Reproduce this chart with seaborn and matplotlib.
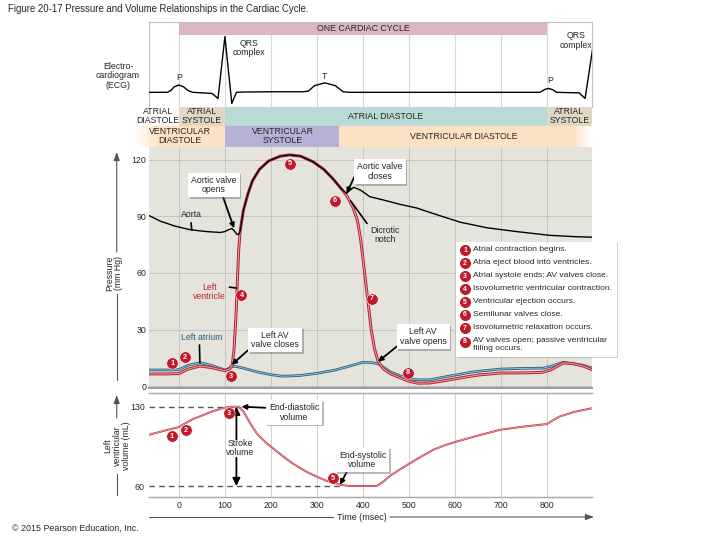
import numpy as np
import matplotlib
matplotlib.use("Agg")
import matplotlib.pyplot as plt
import matplotlib.patheffects as pe
from matplotlib.patches import Rectangle
import seaborn as sns

# ---------------- data ----------------
lv_t = [-65, -30, 0, 20, 46, 70, 100, 110, 116, 120, 124, 127, 130, 133, 140, 150, 160, 175,
        195, 220, 241, 265, 292, 315, 335, 352, 365, 378, 388, 395, 400, 406, 411, 418, 425,
        433, 445, 460, 480, 500, 520, 545, 570, 600, 650, 700, 760, 790, 808, 835, 855, 879, 900]
lv_p = [6.4, 6.4, 6.6, 9.0, 10.6, 9.8, 8.1, 9.0, 11, 20, 37, 55, 72, 82, 93, 102, 109, 115,
        119.5, 122, 122.7, 122, 119, 115, 110, 105, 101, 95, 88, 78, 68, 55, 45, 30, 20,
        13, 9, 6.5, 4.5, 2.5, 1.5, 1.6, 2.5, 3.8, 5.8, 6.9, 7.0, 7.3, 8.5, 12.2, 12.0, 10.6, 8.5]

aorta_t = [-65, -40, -10, 24, 60, 90, 100, 108, 115, 120, 126, 130, 133, 140, 150, 160, 175,
           195, 220, 241, 265, 292, 315, 335, 352, 364, 372, 380, 395, 415, 444, 480, 517,
           560, 611, 670, 734, 806, 860, 900]
aorta_p = [90.5, 87.5, 85, 83, 82, 81.5, 82, 83, 83.6, 82.5, 80.5, 80.5, 82, 93, 102, 109, 115,
           119.5, 122, 122.7, 122, 119, 115, 110, 105, 102.3, 104, 105.5, 104, 100.5, 98.8, 96.5, 94.5,
           91, 87, 84, 82, 80, 79.3, 79]

atrium_t = [-65, -20, 0, 20, 46, 70, 100, 110, 116, 125, 140, 170, 200, 226, 260, 300, 340,
            370, 400, 420, 433, 444, 460, 480, 500, 517, 545, 589, 640, 698, 760, 792, 810,
            835, 879, 900]
atrium_p = [8.5, 8.5, 8.7, 11, 12.4, 11, 8.5, 9.5, 10.5, 10.3, 9.5, 7.5, 6.0, 5.2, 5.5, 6.7, 8.5,
            10.5, 12.6, 12.4, 11.8, 10, 7.5, 5.5, 3.8, 3.3, 3.3, 5.3, 7.5, 9.0, 9.4, 9.5, 10.5,
            12.6, 11, 9.4]

vol_t = [-67, -30, 0, 10, 30, 46, 70, 97, 115, 130, 140, 154, 170, 190, 210, 227, 245, 263,
         280, 300, 318, 336, 355, 372, 430, 445, 459, 480, 502, 527, 553, 578, 604, 650, 698,
         750, 800, 815, 828, 860, 900]
vol_v = [105, 109, 112, 114.5, 119, 121.5, 125.5, 129, 130, 130, 126, 116, 106, 98, 91.5, 86,
         80.5, 76, 72, 68.2, 65, 62.7, 60.8, 60, 60, 64, 69, 74.5, 80, 86, 92, 96, 99.3, 104.5,
         109.6, 112.5, 114.7, 118.5, 121.4, 125.5, 128.8]

ecg_t = [-65, -25, -18, -10, 0, 10, 20, 30, 50, 72, 85, 100, 115, 125, 140, 200, 270, 281,
         295, 317, 340, 357, 370, 500, 785, 795, 803, 812, 821, 870, 883, 900, 910]
ecg_v = [0, 0, 0.03, 0.1, 0.13, 0.1, 0.03, 0, -0.01, -0.02, -0.11, 1.0, -0.2, 0, 0.005, 0.01,
         0.01, 0.02, 0.12, 0.17, 0.12, 0.01, 0, 0, 0, 0.05, 0.07, 0.05, 0, -0.01, -0.11, 0.82, 1.3]

time_ticks = [0, 100, 200, 300, 400, 500, 600, 700, 800]
pressure_ticks = [0, 30, 60, 90, 120]
edv, esv = 130, 60
volume_ticks = [esv, edv]

p_marker_num = [1, 2, 3, 4, 5, 6, 7, 8]
p_marker_t = [-14, 13, 114, 136, 241, 339, 419, 498]
p_marker_p = [12, 15.2, 5.3, 48.3, 117.9, 98.4, 46.2, 7.1]
v_marker_num = [1, 2, 3, 5]
v_marker_t = [-16, 15, 109, 335]
v_marker_v = [103.8, 109, 124.1, 66.8]

cycle_start, cycle_end = 0, 800
atrial_phases = [("ATRIAL\nDIASTOLE", -65, 0, "white", -46),
                 ("ATRIAL\nSYSTOLE", 0, 100, "#e2d6c5", 50),
                 ("ATRIAL DIASTOLE", 100, 800, "#b9dbd8", 450),
                 ("ATRIAL\nSYSTOLE", 800, 898, "#e2d6c5", 849)]
vent_phases = [("VENTRICULAR\nDIASTOLE", 2),
               ("VENTRICULAR\nSYSTOLE", 226),
               ("VENTRICULAR DIASTOLE", 620)]
vsys_start, vsys_end = 100, 349

legend_items = ["Atrial contraction begins.",
                "Atria eject blood into ventricles.",
                "Atrial systole ends; AV valves close.",
                "Isovolumetric ventricular contraction.",
                "Ventricular ejection occurs.",
                "Semilunar valves close.",
                "Isovolumetric relaxation occurs.",
                "AV valves open; passive ventricular\nfilling occurs."]

# ---------------- style ----------------
sns.set_style("white")
plt.rcParams["font.family"] = ["Liberation Sans", "DejaVu Sans"]
FS = 6.3
RED_D, RED_L = "#b01f2d", "#f3a3a8"
BLUE_D, BLUE_L = "#2e5d7c", "#9ad2e4"
MARK = "#c01a2a"

W, H = 720, 540
fig = plt.figure(figsize=(7.2, 5.4), dpi=100)


def px_axes(x0, y0, x1, y1):
    return fig.add_axes([x0 / W, 1 - y1 / H, (x1 - x0) / W, (y1 - y0) / H])


XL = (-65, 898)
ax_ecg = px_axes(149, 21.7, 592, 107)
ax_band = px_axes(149, 107, 592, 147)
ax_p = px_axes(149, 147, 592, 388)
ax_v = px_axes(149, 393, 592, 497)

# ---------------- ECG ----------------
for t in time_ticks:
    ax_ecg.axvline(t, color="#d8d8d8", lw=0.8, zorder=0)
ax_ecg.add_patch(Rectangle((cycle_start, 1.03), cycle_end - cycle_start, 0.3,
                           color="#dbb5c4", lw=0, zorder=1))
ax_ecg.text((cycle_start + cycle_end) / 2, 1.15, "ONE CARDIAC CYCLE", ha="center", va="center",
            fontsize=FS, zorder=2)
sns.lineplot(x=ecg_t, y=ecg_v, ax=ax_ecg, color="black", lw=1.0, legend=False, zorder=3)
ax_ecg.set_xlim(*XL)
ax_ecg.set_ylim(-0.264, 1.27)
ax_ecg.set_xticks([]); ax_ecg.set_yticks([])
ax_ecg.set_xlabel(""); ax_ecg.set_ylabel("")
for s in ["top", "left", "right"]:
    ax_ecg.spines[s].set_color("#bdbdbd"); ax_ecg.spines[s].set_linewidth(0.8)
ax_ecg.spines["bottom"].set_visible(False)
ax_ecg.text(0, 0.27, "P", ha="center", va="center", fontsize=FS)
ax_ecg.text(152, 0.8, "QRS\ncomplex", ha="center", va="center", fontsize=FS, linespacing=1.05)
ax_ecg.text(317, 0.28, "T", ha="center", va="center", fontsize=FS)
ax_ecg.text(807, 0.22, "P", ha="center", va="center", fontsize=FS)
ax_ecg.text(864, 0.93, "QRS\ncomplex", ha="center", va="center", fontsize=FS, linespacing=1.05)

# ---------------- phase bands ----------------
tt = np.linspace(-95, 898, 500)
alpha = np.clip((tt + 95) / 55, 0, 1) * np.clip((898 - tt) / 40, 0, 1)
peach = np.zeros((1, len(tt), 4))
peach[..., 0], peach[..., 1], peach[..., 2] = 253 / 255, 225 / 255, 196 / 255
peach[..., 3] = alpha
ax_band.imshow(peach, extent=(-95, 898, 0, 21), aspect="auto", clip_on=False, zorder=0)
ax_band.add_patch(Rectangle((vsys_start, 0), vsys_end - vsys_start, 21, color="#b7b1d8", lw=0, zorder=1))
for label, a, b, col, tc in atrial_phases:
    ax_band.add_patch(Rectangle((a, 21), b - a, 19, color=col, lw=0, zorder=1))
    ax_band.text(tc, 30.5, label, ha="center", va="center", fontsize=FS, linespacing=1.0,
                 clip_on=False, zorder=3)
for label, tc in vent_phases:
    ax_band.text(tc, 10.5, label, ha="center", va="center", fontsize=FS, linespacing=1.0,
                 clip_on=False, zorder=3)
ax_band.set_xlim(*XL)
ax_band.set_ylim(0, 40)
ax_band.axis("off")

# ---------------- pressure ----------------
ax_p.set_facecolor("#e4e4dd")
sns.lineplot(x=atrium_t, y=atrium_p, ax=ax_p, color=BLUE_D, lw=1.9, legend=False)
sns.lineplot(x=atrium_t, y=atrium_p, ax=ax_p, color=BLUE_L, lw=0.6, legend=False)
sns.lineplot(x=lv_t, y=lv_p, ax=ax_p, color=RED_D, lw=2.1, legend=False)
sns.lineplot(x=lv_t, y=lv_p, ax=ax_p, color=RED_L, lw=0.7, legend=False)
sns.lineplot(x=aorta_t, y=aorta_p, ax=ax_p, color="black", lw=1.0, legend=False)
ax_p.set_xlim(*XL)
ax_p.set_ylim(-1.06, 126.9)
ax_p.set_xticks(time_ticks)
ax_p.set_yticks(pressure_ticks)
ax_p.grid(True, color="#c6c6be", lw=0.7)
ax_p.set_axisbelow(True)
ax_p.tick_params(labelbottom=False, length=0, labelsize=6.3, pad=2)
ax_p.set_xlabel(""); ax_p.set_ylabel("")
for s in ["top", "left", "right"]:
    ax_p.spines[s].set_visible(False)
ax_p.spines["bottom"].set_color("#9c9c9c"); ax_p.spines["bottom"].set_linewidth(1.5)

sns.scatterplot(x=p_marker_t, y=p_marker_p, ax=ax_p, s=68, color=MARK, edgecolor="white",
                linewidth=0.4, legend=False, zorder=5)
for n, t, p in zip(p_marker_num, p_marker_t, p_marker_p):
    ax_p.text(t, p, str(n), color="white", fontsize=5.2, weight="bold", ha="center",
              va="center", zorder=6)

box = dict(boxstyle="square,pad=0.35", fc="white", ec="none")
arrow_kw = dict(arrowstyle="-|>,head_length=0.45,head_width=0.22", color="black", lw=1.3,
                shrinkA=0, shrinkB=0)
shadow = [pe.SimplePatchShadow(offset=(1.2, -1.2), shadow_rgbFace="#777777", alpha=0.5), pe.Normal()]


def boxed(ax, text, xy, xytext, relpos):
    a = ax.annotate(text, xy=xy, xytext=xytext, ha="center", va="center", fontsize=FS,
                    linespacing=1.05, bbox=box, zorder=7,
                    arrowprops=dict(relpos=relpos, **arrow_kw))
    a.get_bbox_patch().set_path_effects(shadow)
    return a


boxed(ax_p, "Aortic valve\nopens", (120, 83.7), (76, 106.7), (0.68, 0.0))
boxed(ax_p, "Aortic valve\ncloses", (364.5, 102.3), (437, 113.8), (0.0, 0.55))
boxed(ax_p, "Left AV\nvalve closes", (114.5, 11.2), (209, 24.4), (0.0, 0.1))
boxed(ax_p, "Left AV\nvalve opens", (433, 12.9), (531, 26.2), (0.0, 0.1))

line_kw = dict(arrowstyle="-", color="black", lw=1.2, shrinkA=0, shrinkB=0)
ax_p.annotate("Aorta", xy=(28, 82.8), xytext=(28, 90.8), ha="center", va="center", fontsize=FS,
              zorder=7, arrowprops=dict(relpos=(0.45, 0.0), **line_kw))
ax_p.annotate("Left\nventricle", xy=(125, 52), xytext=(67, 50), ha="center", va="center",
              fontsize=FS, color="#c0202a", zorder=7, linespacing=1.05,
              arrowprops=dict(relpos=(1.0, 0.78), **line_kw))
ax_p.annotate("Left atrium", xy=(45.6, 12.4), xytext=(49, 25.9), ha="center", va="center",
              fontsize=FS, color="#2e5d7c", zorder=7,
              arrowprops=dict(relpos=(0.45, 0.0), **line_kw))
ax_p.annotate("Dicrotic\nnotch", xy=(373, 98.4), xytext=(448, 80.3), ha="center", va="center",
              fontsize=FS, zorder=7, linespacing=1.05,
              arrowprops=dict(relpos=(0.0, 0.75), connectionstyle="angle,angleA=0,angleB=126,rad=0",
                              **line_kw))

# ---------------- volume ----------------
ax_v.set_facecolor("white")
ax_v.hlines(edv, XL[0], 135, colors="#555555", linestyles=(0, (4, 3)), lw=1.0, zorder=1)
ax_v.hlines(esv, XL[0], 350, colors="#555555", linestyles=(0, (4, 3)), lw=1.0, zorder=1)
sns.lineplot(x=vol_t, y=vol_v, ax=ax_v, color="#c23040", lw=1.4, legend=False)
sns.lineplot(x=vol_t, y=vol_v, ax=ax_v, color="#f6b8bb", lw=0.45, legend=False)
ax_v.set_xlim(*XL)
ax_v.set_ylim(50.3, 142.1)
ax_v.set_xticks(time_ticks)
ax_v.set_xticklabels([str(t) for t in time_ticks])
ax_v.set_yticks(volume_ticks)
ax_v.grid(True, axis="x", color="#d3d3d3", lw=0.8)
ax_v.set_axisbelow(True)
ax_v.tick_params(length=0, labelsize=6.3, pad=3)
ax_v.set_xlabel(""); ax_v.set_ylabel("")
for s in ["left", "right"]:
    ax_v.spines[s].set_visible(False)
for s in ["top", "bottom"]:
    ax_v.spines[s].set_color("#a8a8a8"); ax_v.spines[s].set_linewidth(1.0)

sns.scatterplot(x=v_marker_t, y=v_marker_v, ax=ax_v, s=68, color=MARK, edgecolor="white",
                linewidth=0.4, legend=False, zorder=5)
for n, t, v in zip(v_marker_num, v_marker_t, v_marker_v):
    ax_v.text(t, v, str(n), color="white", fontsize=5.2, weight="bold", ha="center",
              va="center", zorder=6)

boxed(ax_v, "End-diastolic\nvolume", (136, edv), (250, 124.9), (0.0, 0.75))
boxed(ax_v, "End-systolic\nvolume", (350, 61), (399, 83), (0.2, 0.0))
ax_v.text(133, 93.3, "Stroke\nvolume", ha="center", va="center", fontsize=FS, linespacing=1.05, zorder=7)
ax_v.annotate("", xy=(125, edv), xytext=(125, 101), arrowprops=dict(**arrow_kw))
ax_v.annotate("", xy=(125, esv), xytext=(125, 85), arrowprops=dict(**arrow_kw))

# ---------------- overlay (figure pixel coordinates) ----------------
ov = fig.add_axes([0, 0, 1, 1], zorder=10)
ov.set_xlim(0, W); ov.set_ylim(H, 0)
ov.axis("off")
ov.patch.set_alpha(0)

ov.text(8, 9, "Figure 20-17 Pressure and Volume Relationships in the Cardiac Cycle.",
        fontsize=6.9, ha="left", va="center")
ov.text(12, 528, "\u00a9 2015 Pearson Education, Inc.", fontsize=6.4, ha="left", va="center")
ov.text(118, 76, "Electro-\ncardiogram\n(ECG)", fontsize=FS, ha="center", va="center", linespacing=1.1)

gray_arrow = dict(arrowstyle="-|>,head_length=0.5,head_width=0.18", color="#555555", lw=0.8,
                  shrinkA=0, shrinkB=0)
ov.text(114, 273, "Pressure\n(mm Hg)", rotation=90, fontsize=FS, ha="center", va="center", linespacing=1.0)
ov.plot([116.7, 116.7], [380, 294], color="#555555", lw=0.8)
ov.annotate("", xy=(116.7, 152), xytext=(116.7, 252), arrowprops=gray_arrow)
ov.text(117, 446, "Left\nventricular\nvolume (mL)", rotation=90, fontsize=FS, ha="center",
        va="center", linespacing=1.1)
ov.plot([116.7, 116.7], [495, 474], color="#555555", lw=0.8)
ov.annotate("", xy=(116.7, 395), xytext=(116.7, 418), arrowprops=gray_arrow)
ov.text(361.7, 517.3, "Time (msec)", fontsize=6.5, ha="center", va="center")
ov.plot([149, 333], [517, 517], color="#555555", lw=0.8)
ov.annotate("", xy=(594, 517), xytext=(390, 517), arrowprops=gray_arrow)

# legend box
ov.add_patch(Rectangle((457.5, 243.2), 160.7, 115, color="#999999", alpha=0.5, lw=0, zorder=1))
ov.add_patch(Rectangle((456, 241.7), 160.7, 115, color="white", lw=0, zorder=2))
rows_y = [250, 263.3, 276, 289.3, 302.3, 315, 328.3, 341.7]
ov.scatter([465] * len(rows_y), rows_y, s=48, color=MARK, zorder=3)
for i, (txt, y) in enumerate(zip(legend_items, rows_y)):
    ov.text(465, y, str(i + 1), color="white", fontsize=4.9, weight="bold", ha="center",
            va="center", zorder=4)
    ov.text(473, y - 4.3, txt, fontsize=6.1, ha="left", va="top",
            linespacing=1.2, zorder=4)

fig.savefig("out.png", dpi=100)
